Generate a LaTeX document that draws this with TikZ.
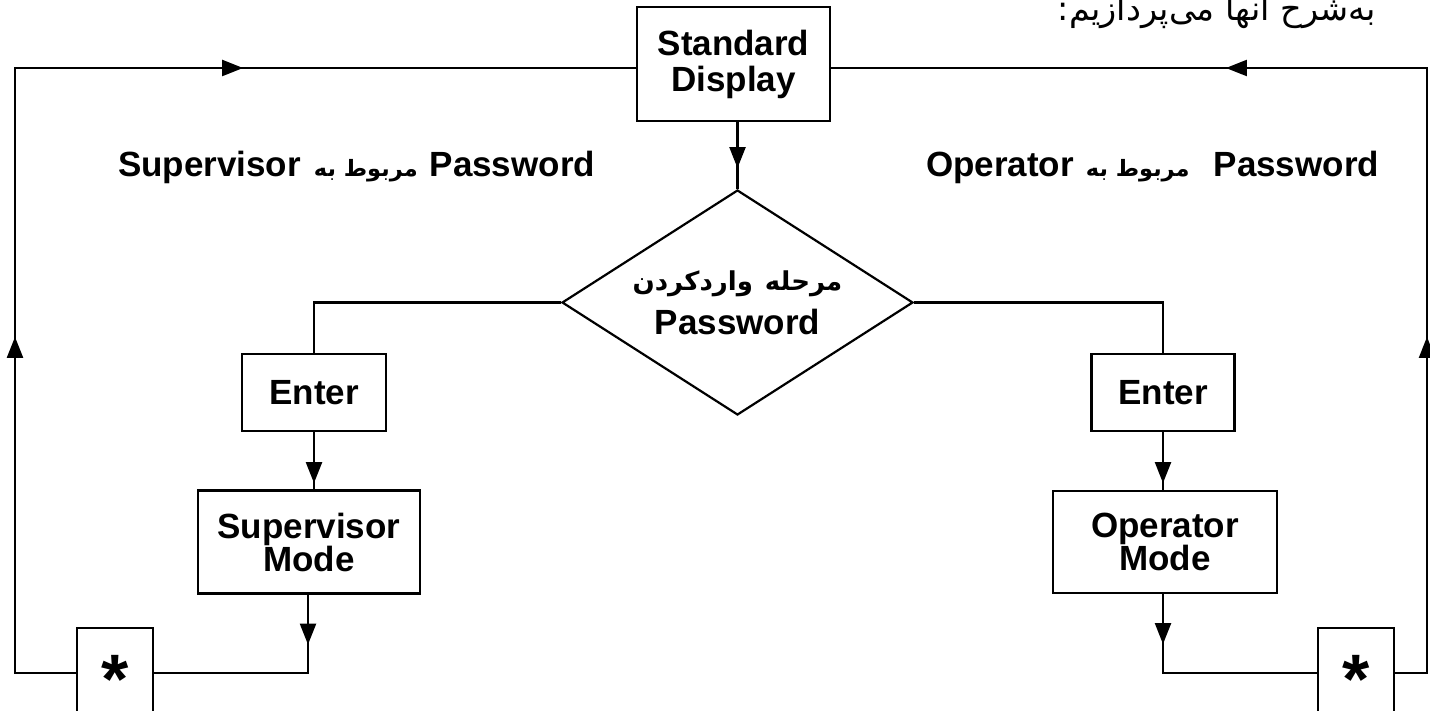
\documentclass[tikz,border=0pt]{standalone}
\usepackage{fontspec}
\setmainfont{Liberation Sans}
\newfontfamily\fafont[Script=Arabic]{DejaVu Sans}
\TeXXeTstate=1
\usetikzlibrary{shapes.geometric,arrows.meta,decorations.markings}
\begin{document}
\begin{tikzpicture}[x=1pt,y=-1pt,line width=2.2pt,
  box/.style={draw,rectangle,inner sep=0pt,align=center,font=\bfseries\fontsize{35}{33}\selectfont},
  lbl/.style={inner sep=0pt,anchor=base west,font=\bfseries\fontsize{35}{35}\selectfont},
  starbox/.style={draw,rectangle,inner sep=0pt,minimum width=76pt,minimum height=90pt,text height=60pt,text depth=0pt,font=\bfseries\fontsize{70}{70}\selectfont},
  marrow/.style={postaction={decorate,decoration={markings,mark=at position #1 with {\arrow{Triangle[length=21pt,width=16pt]}}}}},
  marrowtwo/.style 2 args={postaction={decorate,decoration={markings,
     mark=at position #1 with {\arrow{Triangle[length=21pt,width=16pt]}},
     mark=at position #2 with {\arrow{Triangle[length=21pt,width=16pt]}}}}}]
\fill[white] (0,0) rectangle (1430,711);
\useasboundingbox (0,0) rectangle (1430,711);

% header text (cut at the top)
\node[inner sep=0pt,anchor=base east,font=\fafont\fontsize{33.5}{33.5}\selectfont] (hdr) at (1377,21) {\beginR به‌شرح آنها می‌پردازیم:\endR};

% nodes
\node[box,minimum width=193pt,minimum height=114pt,font=\bfseries\fontsize{35}{36}\selectfont] (sd) at (733.5,64) {Standard\\Display};
\node[draw,diamond,shape aspect=1.56,minimum width=351pt,minimum height=225pt,inner sep=0pt,align=center,font=\bfseries\fontsize{35}{35}\selectfont] (dia) at (737.5,302.5) {{\fafont\fontsize{26}{26}\selectfont\beginR مرحله\hspace{12pt}واردکردن\endR}\\[9pt]Password};
\node[box,minimum width=144pt,minimum height=77pt] (enL) at (314,392.5) {Enter};
\node[box,minimum width=143pt,minimum height=77pt] (enR) at (1163,392.5) {Enter};
\node[box,minimum width=222pt,minimum height=103pt] (supM) at (309,542) {Supervisor\\Mode};
\node[box,minimum width=224pt,minimum height=102pt] (opM) at (1165,542) {Operator\\Mode};
\node[starbox] (starL) at (115,673) {*};
\node[starbox] (starR) at (1356,673) {*};

% labels
\node[lbl] (lblL) at (117,177) {Supervisor\hspace{13pt}{\fafont\fontsize{22.5}{22.5}\selectfont\beginR مربوط به\endR}\hspace{12pt}Password};
\node[lbl] (lblR) at (925,177) {Operator\hspace{12pt}{\fafont\fontsize{22.5}{22.5}\selectfont\beginR مربوط به\endR}\hspace{24pt}Password};

\coordinate (lc) at (15,68);
\coordinate (rc) at (1427,68);

% connectors
\draw[marrow=46pt] (dia.north |- sd.south) -- (dia.north);
\draw (dia.west) -| (enL.north);
\draw (dia.east) -| (enR.north);
\draw[marrow=51pt] (enL.south) -- (enL.south |- supM.north);
\draw[marrow=51pt] (enR.south) -- (enR.south |- opM.north);
\draw[marrow=50pt] ([xshift=-6pt]enL.south |- supM.south) |- (starL.east);
\draw[marrow=50pt] (enR.south |- opM.south) |- (starR.west);
\draw[marrowtwo={397pt}{894pt}] (starL.west) -| (lc) -- ([yshift=-4pt]sd.west);
\draw[marrowtwo={368pt}{838pt}] (starR.east) -| (rc) -- ([yshift=-4pt]sd.east);
\end{tikzpicture}
\end{document}
